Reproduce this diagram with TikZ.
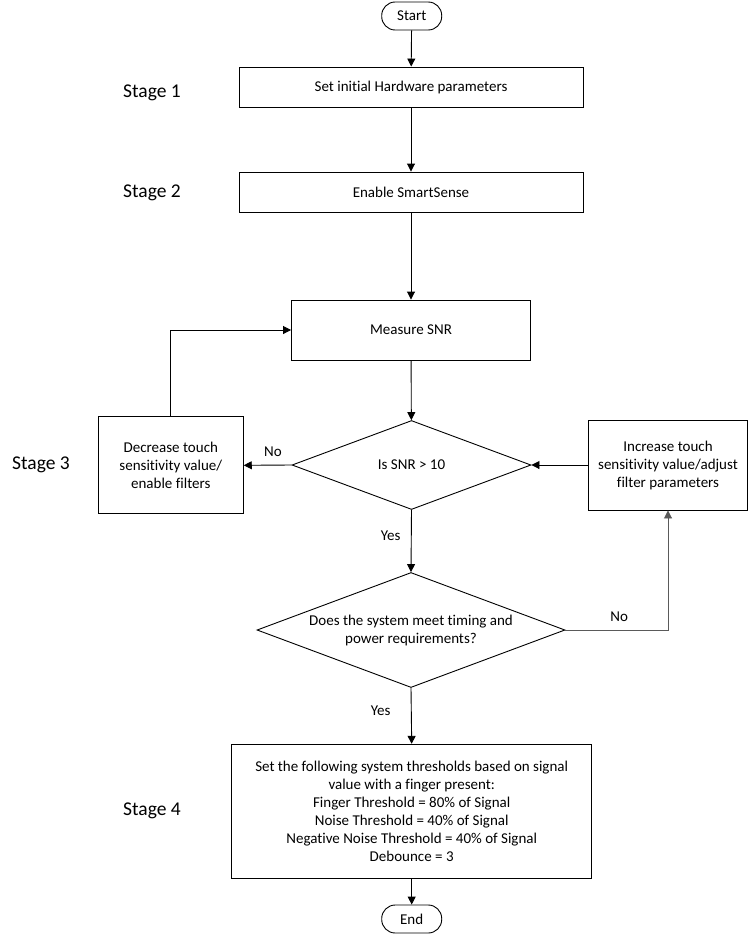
\documentclass[tikz,border=0pt]{standalone}
\usepackage{fontspec}
\setmainfont[Ligatures={NoCommon,NoRequired}]{Carlito}
\usetikzlibrary{shapes.geometric,arrows.meta}
\begin{document}
\begin{tikzpicture}[x=1pt,y=-1pt,
  every node/.style={font=\fontsize{15}{18}\selectfont},
  proc/.style={draw, line width=0.9pt, rectangle, align=center, inner sep=2pt},
  term/.style={draw, line width=0.9pt, rectangle, rounded corners=13.5pt, minimum width=60pt, minimum height=28pt, inner sep=0pt},
  decision/.style={draw, line width=0.9pt, diamond, inner sep=0pt, align=center},
  stagelbl/.style={font=\fontsize{19.5}{22}\selectfont},
  lbl/.style={font=\fontsize{15}{18}\selectfont},
  conn/.style={line width=0.9pt, -{Triangle[length=8pt,width=8pt]}}
]
\useasboundingbox (0,0) rectangle (751,937);
\fill[white] (0,0) rectangle (751,937);

\node[term] (start) at (411.7,16) {Start};
\node[proc, minimum width=344pt, minimum height=40pt] (b1) at (411,87) {Set initial Hardware parameters};
\node[proc, minimum width=344pt, minimum height=40pt] (b2) at (411,192) {Enable SmartSense};
\node[proc, minimum width=239pt, minimum height=60pt] (b3) at (411,330) {Measure SNR};
\node[decision, minimum width=239pt, minimum height=89pt, aspect=2.7] (d1) at (411.5,465) {Is SNR > 10};
\node[proc, minimum width=145pt, minimum height=97pt] (lb) at (170.8,465.3) {Decrease touch\\ sensitivity value/\\ enable filters};
\node[proc, minimum width=159pt, minimum height=90pt] (rb) at (668,465) {Increase touch\\ sensitivity value/adjust\\ filter parameters};
\node[decision, minimum width=308pt, minimum height=115pt, aspect=2.7] (d2) at (411,630) {\makebox[0pt]{Does the system meet timing and}\\ \makebox[0pt]{power requirements?}};
\node[proc, minimum width=360pt, minimum height=134pt] (fb) at (411.7,811.3) {Set the following system thresholds based on signal\\ value with a finger present:\\ Finger Threshold = 80\% of Signal\\ Noise Threshold = 40\% of Signal\\ Negative Noise Threshold = 40\% of Signal\\ Debounce = 3};
\node[term] (end) at (411.7,919) {End};

\node[stagelbl] (s1) at (152,93) {Stage 1};
\node[stagelbl] (s2) at (152,193) {Stage 2};
\node[stagelbl] (s3) at (41,465) {Stage 3};
\node[stagelbl] (s4) at (152,811) {Stage 4};

\draw[conn] (start) -- (b1);
\draw[conn] (b1) -- (b2);
\draw[conn] (b2) -- (b3);
\draw[conn] (b3) -- (d1);
\draw[conn] (d1.west) -- (lb.east) node[lbl, pos=0.39, above=5pt] {No};
\draw[conn] (lb.north) |- (b3.west);
\draw[conn] (rb.west) -- (d1.east);
\draw[conn] (d1.south) -- (d2.north) node[lbl, pos=0.42, left=7pt] {Yes};
\draw[conn, draw={rgb,255:red,90;green,90;blue,90}] (d2.east) -| (rb.south) node[lbl, pos=0.262, above=5pt, text=black] {No};
\draw[conn] (d2.south) -- (fb.north) node[lbl, pos=0.4, left=17pt] {Yes};
\draw[conn] (fb) -- (end);
\end{tikzpicture}
\end{document}
